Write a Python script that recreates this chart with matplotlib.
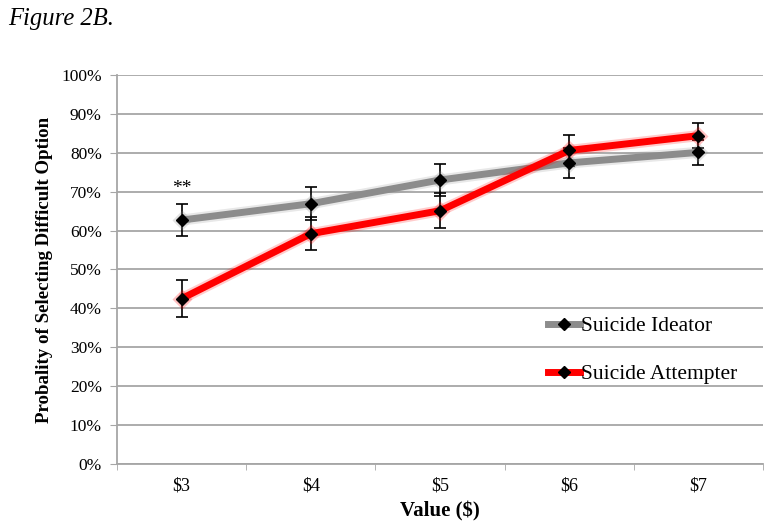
import matplotlib.pyplot as plt
import matplotlib.patheffects as pe
from matplotlib.lines import Line2D
from matplotlib.ticker import PercentFormatter

values = ["$3", "$4", "$5", "$6", "$7"]
ideator = [62.7, 66.9, 73.0, 77.4, 80.1]
ideator_err = [4.2, 4.2, 4.0, 3.8, 3.3]
attempter = [42.5, 59.2, 65.1, 80.6, 84.4]
attempter_err = [4.7, 4.3, 4.5, 4.0, 3.3]

SERIF = ["Liberation Serif", "DejaVu Serif"]
GRID = "#a6a6a6"


def draw_series(ax, x, y, err, color):
    glow = [pe.Stroke(linewidth=8, foreground=color, alpha=0.2), pe.Normal()]
    ax.errorbar(x, y, yerr=err, fmt="none", ecolor="black", elinewidth=1.2,
                capsize=4, capthick=1.2, zorder=3)
    ax.plot(x, y, color=color, linewidth=5, solid_capstyle="butt",
            path_effects=glow, zorder=4)
    # soft halo behind the markers
    ax.plot(x, y, linestyle="none", marker="D", markersize=10,
            markerfacecolor=color, markeredgecolor="none", alpha=0.25, zorder=5)
    ax.plot(x, y, linestyle="none", marker="D", markersize=6.5,
            markerfacecolor="black", markeredgecolor="black", zorder=6)


fig = plt.figure(figsize=(7.74, 5.25), dpi=100)
ax = fig.add_axes([0.1512, 0.1162, 0.8346, 0.741])

x = list(range(len(values)))
draw_series(ax, x, ideator, ideator_err, "#8c8c8c")
draw_series(ax, x, attempter, attempter_err, "#ff0000")

ax.text(0, ideator[0] + ideator_err[0] + 1.8, "**", ha="center", va="bottom",
        fontsize=14, family=SERIF)

ax.set_xlim(-0.5, len(values) - 0.5)
ax.set_ylim(0, 100)
ax.set_yticks(range(0, 101, 10))
ax.yaxis.set_major_formatter(PercentFormatter(decimals=0))
ax.set_xticks(x)
ax.set_xticklabels(values)
ax.set_xticks([i - 0.5 for i in range(len(values) + 1)], minor=True)
ax.tick_params(axis="x", which="major", length=0, pad=10, labelsize=13,
               labelfontfamily=SERIF)
ax.tick_params(axis="x", which="minor", length=4, color=GRID, direction="out")
ax.tick_params(axis="y", length=5, color=GRID, direction="out", pad=6,
               labelsize=12.5, labelfontfamily=SERIF)

ax.grid(axis="y", color=GRID, linewidth=1.3)
ax.set_axisbelow(True)
for side in ["top", "right"]:
    ax.spines[side].set_visible(False)
for side in ["left", "bottom"]:
    ax.spines[side].set_color(GRID)
    ax.spines[side].set_linewidth(1.3)

ax.set_xlabel("Value ($)", family=SERIF, fontweight="bold", fontsize=15, labelpad=5)
ax.set_ylabel("Probality of Selecting Difficult Option", family=SERIF,
              fontweight="bold", fontsize=13.6, labelpad=6)

handles = [
    Line2D([], [], color="#8c8c8c", linewidth=5, marker="D", markersize=6.5,
           markerfacecolor="black", markeredgecolor="black"),
    Line2D([], [], color="#ff0000", linewidth=5, marker="D", markersize=6.5,
           markerfacecolor="black", markeredgecolor="black"),
]
ax.legend(handles, ["Suicide Ideator", "Suicide Attempter"], loc="upper left",
          bbox_to_anchor=(0.654, 0.402), frameon=False,
          prop={"family": SERIF, "size": 15.5}, handlelength=1.5,
          handletextpad=0.05, labelspacing=1.3, borderaxespad=0)

fig.text(0.01, 0.985, "Figure 2B.", family=SERIF, style="italic", fontsize=17.7,
         ha="left", va="top")

fig.savefig("out.png", dpi=100)
